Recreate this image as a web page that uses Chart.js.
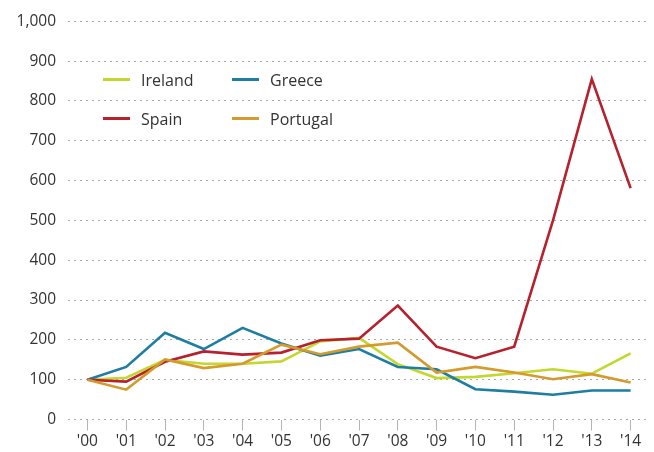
<!DOCTYPE html>
<html>
<head>
<meta charset="utf-8">
<script src="https://cdn.jsdelivr.net/npm/chart.js@4"></script>
<style>
  html, body { margin: 0; padding: 0; background: #fff; }
  #wrap { position: relative; width: 654px; height: 452px; }
  #legend { position: absolute; left: 103px; top: 68px; font-family: "Open Sans", sans-serif; font-size: 16px; color: #333;
    display: grid; grid-template-columns: 129px 129px; row-gap: 16px; }
  .item { display: flex; align-items: center; height: 23px; }
  .swatch { width: 27px; height: 3px; margin-right: 11px; }
</style>
</head>
<body>
<div id="wrap">
  <canvas id="myChart" width="654" height="452"></canvas>
  <div id="legend"></div>
</div>
<script>
// data (index, 2000 = 100)
var years = ["'00", "'01", "'02", "'03", "'04", "'05", "'06", "'07", "'08", "'09", "'10", "'11", "'12", "'13", "'14"];
var ireland  = [100, 105, 150, 140, 140, 146, 196, 205, 139, 104, 107, 116, 126, 115, 166];
var greece   = [100, 132, 218, 177, 230, 191, 160, 177, 132, 126, 76, 70, 62, 73, 73];
var spain    = [100, 95, 145, 171, 163, 168, 199, 203, 286, 183, 154, 183, 500, 855, 581];
var portugal = [100, 75, 151, 129, 140, 188, 164, 183, 193, 118, 132, 118, 101, 114, 93];
var yTicks = [0, 100, 200, 300, 400, 500, 600, 700, 800, 900, 1000];

var names  = ['Ireland', 'Greece', 'Spain', 'Portugal'];
var colors = ['#c3d82e', '#1d7ea2', '#b6212d', '#d59a2d'];
var series = [ireland, greece, spain, portugal];

var datasets = names.map(function (n, i) {
    return {
        label: n,
        data: series[i],
        borderColor: colors[i],
        backgroundColor: colors[i],
        borderWidth: 2.6,
        pointRadius: 0,
        tension: 0,
        fill: false
    };
});
// draw order: Ireland at bottom, Greece, Spain, Portugal on top
datasets[0].order = 4; datasets[1].order = 3; datasets[2].order = 2; datasets[3].order = 1;

var font = { family: '"Open Sans", sans-serif', size: 15.5 };

var ctx = document.getElementById('myChart').getContext('2d');
var myChart = new Chart(ctx, {
    type: 'line',
    data: { labels: years, datasets: datasets },
    options: {
        responsive: false,
        animation: false,
        layout: { padding: { top: 8, right: 4, bottom: 0, left: 0 } },
        plugins: { legend: { display: false }, tooltip: { enabled: false } },
        scales: {
            x: {
                offset: true,
                grid: { offset: false, drawOnChartArea: false, drawTicks: true, tickLength: 11, color: '#b5b5b5', lineWidth: 1 },
                border: { display: false },
                ticks: { color: '#333', font: { family: font.family, size: 15.5, lineHeight: 1 }, padding: 3, maxRotation: 0 }
            },
            y: {
                min: 0,
                max: 1000,
                afterBuildTicks: function (s) { s.ticks = yTicks.map(function (v) { return { value: v }; }); },
                afterFit: function (s) { s.width = 68; },
                grid: { drawTicks: false, color: '#a8a8a8', lineWidth: 1 },
                border: { display: false, dash: [2, 4] },
                ticks: { color: '#333', font: font, padding: 12,
                    callback: function (v) { return v.toLocaleString('en-US'); } }
            }
        }
    }
});

// legend built from the same arrays
var leg = document.getElementById('legend');
[0, 1, 2, 3].forEach(function (i) {
    var d = document.createElement('div');
    d.className = 'item';
    d.innerHTML = '<span class="swatch" style="background:' + colors[i] + '"></span>' + names[i];
    leg.appendChild(d);
});
</script>
</body>
</html>
